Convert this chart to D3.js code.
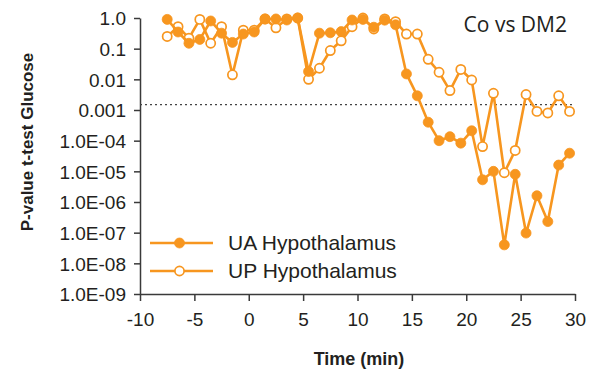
<!DOCTYPE html>
<html>
<head>
<meta charset="utf-8">
<script src="https://cdn.jsdelivr.net/npm/d3@7"></script>
<style>
  body { margin: 0; background: #fff; }
  svg { display: block; }
  .axis path, .axis line { stroke: #3a3a3a; stroke-width: 1.5; }
  .axis text { font-family: "Liberation Sans", Arial, sans-serif; fill: #231f20; }
</style>
</head>
<body>
<div id="chart"></div>
<script>
/* Data */
var times = [-7.5, -6.5, -5.5, -4.5, -3.5, -2.5, -1.5, -0.5, 0.5, 1.5, 2.5, 3.5, 4.5, 5.5, 6.5, 7.5, 8.5, 9.5, 10.5,
  11.5, 12.5, 13.5, 14.5, 15.5, 16.5, 17.5, 18.5, 19.5, 20.5, 21.5, 22.5, 23.5, 24.5, 25.5, 26.5, 27.5, 28.5, 29.5];

var uaValues = [0.9, 0.35, 0.15, 0.2, 0.8, 0.32, 0.16, 0.3, 0.35, 0.93, 0.93, 0.86, 1.0, 0.018, 0.32, 0.33, 0.36, 0.86, 0.9,
  0.5, 0.85, 0.6, 0.015, 0.0029, 4e-4, 1.0e-4, 1.35e-4, 8.3e-5, 2.1e-4, 5.3e-6, 1e-5, 4e-8, 8e-6, 9.7e-8, 1.6e-6, 2.3e-7, 1.6e-5, 3.9e-5];

var upValues = [0.25, 0.52, 0.22, 0.9, 0.15, 0.52, 0.014, 0.4, 0.4, 0.93, 0.48, 0.93, 1.0, 0.01, 0.023, 0.087, 0.18, 0.52, 1.0,
  0.44, 0.93, 0.76, 0.3, 0.3, 0.045, 0.017, 0.0043, 0.021, 0.0095, 6.4e-5, 0.0035, 9e-6, 4.8e-5, 0.0032, 9e-4, 8e-4, 0.0029, 9e-4];

var seriesNames = ["UA Hypothalamus", "UP Hypothalamus"];
var threshold = 0.0015;

var xTicks = [-10, -5, 0, 5, 10, 15, 20, 25, 30];
var yTicks = [1, 0.1, 0.01, 0.001, 1e-4, 1e-5, 1e-6, 1e-7, 1e-8, 1e-9];
var yTickLabels = ["1.0", "0.1", "0.01", "0.001", "1.0E-04", "1.0E-05", "1.0E-06", "1.0E-07", "1.0E-08", "1.0E-09"];

var width = 600;
var height = 374;
var orange = "#f7961f";

/* Scales */
var xScale = d3.scaleLinear().domain([-10, 30]).range([140, 575]);
var yScale = d3.scaleLog().domain([1e-9, 1]).range([294, 18]);

var svg = d3.select("#chart").append("svg")
  .attr("width", width)
  .attr("height", height);

/* Axes */
var xAxis = d3.axisBottom(xScale).tickValues(xTicks).tickSize(7).tickSizeOuter(0).tickPadding(12)
  .tickFormat(function (d) { return String(d); });
var yAxis = d3.axisLeft(yScale).tickValues(yTicks).tickSize(6).tickSizeOuter(0).tickPadding(8)
  .tickFormat(function (d, i) { return yTickLabels[i]; });

svg.append("g")
  .attr("class", "x axis")
  .attr("transform", "translate(0, 294)")
  .call(xAxis)
  .selectAll("text")
  .style("font-size", "19px");

svg.append("g")
  .attr("class", "y axis")
  .attr("transform", "translate(140, 0)")
  .call(yAxis)
  .selectAll("text")
  .style("font-size", "19px")
  .attr("dy", "0.36em");

/* Threshold line */
svg.append("line")
  .attr("x1", xScale(-10))
  .attr("x2", xScale(29.8))
  .attr("y1", yScale(threshold))
  .attr("y2", yScale(threshold))
  .attr("stroke", "#444")
  .attr("stroke-width", 1.4)
  .attr("stroke-dasharray", "2,3");

/* Lines */
var line = d3.line()
  .x(function (d) { return xScale(d[0]); })
  .y(function (d) { return yScale(d[1]); });

var ua = times.map(function (t, i) { return [t, uaValues[i]]; });
var up = times.map(function (t, i) { return [t, upValues[i]]; });

function drawSeries(data, filled) {
  svg.append("path")
    .datum(data)
    .attr("d", line)
    .attr("fill", "none")
    .attr("stroke", orange)
    .attr("stroke-width", 2.6)
    .attr("stroke-linejoin", "round");

  svg.append("g").selectAll("circle")
    .data(data).enter()
    .append("circle")
    .attr("cx", function (d) { return xScale(d[0]); })
    .attr("cy", function (d) { return yScale(d[1]); })
    .attr("r", filled ? 5 : 4.6)
    .attr("fill", filled ? orange : "#fff")
    .attr("stroke", orange)
    .attr("stroke-width", filled ? 0.8 : 1.7);
}

drawSeries(up, false);
drawSeries(ua, true);

/* Legend */
var legend = svg.append("g");
[0, 1].forEach(function (i) {
  var y = 243 + i * 28;
  legend.append("line")
    .attr("x1", 150).attr("x2", 213)
    .attr("y1", y).attr("y2", y)
    .attr("stroke", orange)
    .attr("stroke-width", 2.6);
  legend.append("circle")
    .attr("cx", 179.5).attr("cy", y)
    .attr("r", i == 0 ? 5 : 4.6)
    .attr("fill", i == 0 ? orange : "#fff")
    .attr("stroke", orange)
    .attr("stroke-width", i == 0 ? 0.8 : 1.7);
  legend.append("text")
    .attr("x", 228)
    .attr("y", y + 7)
    .style("font-family", "'Liberation Sans', Arial, sans-serif")
    .style("font-size", "21px")
    .attr("fill", "#231f20")
    .text(seriesNames[i]);
});

/* Titles */
svg.append("text")
  .attr("x", 567)
  .attr("y", 32)
  .attr("text-anchor", "end")
  .style("font-family", "'Open Sans', sans-serif")
  .style("font-size", "21px")
  .attr("fill", "#231f20")
  .text("Co vs DM2");

svg.append("text")
  .attr("x", 359)
  .attr("y", 365)
  .attr("text-anchor", "middle")
  .style("font-family", "'Liberation Sans', Arial, sans-serif")
  .style("font-size", "18px")
  .style("font-weight", "bold")
  .attr("fill", "#231f20")
  .text("Time (min)");

svg.append("text")
  .attr("transform", "translate(33, 142) rotate(-90)")
  .attr("text-anchor", "middle")
  .style("font-family", "'Liberation Sans', Arial, sans-serif")
  .style("font-size", "17px")
  .style("font-weight", "bold")
  .attr("fill", "#231f20")
  .text("P-value t-test Glucose");
</script>
</body>
</html>
